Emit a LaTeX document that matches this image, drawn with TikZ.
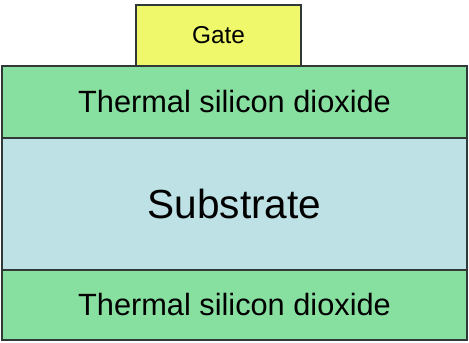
\documentclass[tikz,border=0pt]{standalone}
\usepackage{fontspec}
\setmainfont{Liberation Sans}
\usetikzlibrary{positioning}
\definecolor{gateYellow}{HTML}{EEF86A}
\definecolor{oxGreen}{HTML}{88E0A0}
\definecolor{subBlue}{HTML}{BDE1E4}
\definecolor{edgeGrey}{HTML}{303838}
\tikzset{
  layer/.style={draw=edgeGrey, line width=0.8pt, minimum width=9.30cm,
                inner sep=0pt, outer sep=0pt, font=\fontsize{17.5}{20}\selectfont},
  gatebox/.style={draw=edgeGrey, line width=0.8pt, fill=gateYellow,
                minimum width=3.30cm, minimum height=1.22cm,
                inner sep=0pt, outer sep=0pt, font=\fontsize{13.9}{16}\selectfont},
}
\begin{document}
\begin{tikzpicture}[x=0.02cm,y=-0.02cm]
  \useasboundingbox (0,0) rectangle (469,342);
  % stack of layers, top to bottom
  \node[layer,fill=oxGreen,minimum height=1.44cm] (oxtop) at (234.5,102)
        {Thermal silicon dioxide};
  \node[layer,fill=subBlue,minimum height=2.64cm,below=0pt of oxtop,
        font=\fontsize{23.1}{26}\selectfont] (sub) {Substrate};
  \node[layer,fill=oxGreen,minimum height=1.40cm,below=0pt of sub] (oxbot)
        {Thermal silicon dioxide};
  % gate on top
  \node[gatebox,anchor=south] (gate) at (218.5,66) {Gate};
\end{tikzpicture}
\end{document}
